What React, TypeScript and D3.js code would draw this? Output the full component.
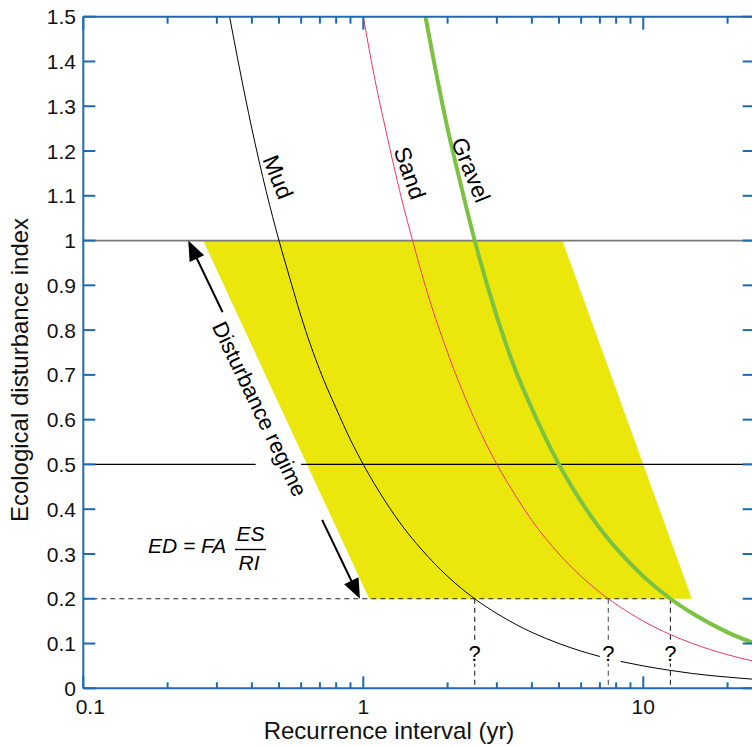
import React from "react";
import * as d3 from "d3";

// ---- data ----
const mudRI1 = [0.333, 0.36, 0.4, 0.45, 0.5, 0.55, 0.6, 0.7, 0.8, 0.9, 1.0, 1.2, 1.4, 1.6, 1.8, 2.0, 2.5, 3.0, 3.5, 4.0, 5.0, 6.0, 7.0];
const mudED1 = [1.5, 1.39, 1.25, 1.11, 1.0, 0.91, 0.83, 0.71, 0.625, 0.555, 0.5, 0.417, 0.357, 0.313, 0.278, 0.25, 0.2, 0.167, 0.143, 0.125, 0.1, 0.083, 0.071];
const mudRI2 = [8.3, 10, 12.5, 15, 20, 25];
const mudED2 = [0.06, 0.05, 0.04, 0.033, 0.025, 0.02];

const sandRI = [1.0, 1.1, 1.2, 1.4, 1.5, 1.7, 2, 2.5, 3, 3.5, 4, 5, 6, 7.5, 9, 10, 12.5, 15, 20, 25];
const sandED = [1.5, 1.36, 1.25, 1.07, 1.0, 0.88, 0.75, 0.6, 0.5, 0.43, 0.375, 0.3, 0.25, 0.2, 0.167, 0.15, 0.12, 0.1, 0.075, 0.06];

const gravelRI = [1.667, 1.8, 2, 2.2, 2.5, 3, 3.5, 4, 5, 6, 7, 8, 10, 12.5, 15, 20, 25];
const gravelED = [1.5, 1.39, 1.25, 1.14, 1.0, 0.83, 0.71, 0.625, 0.5, 0.417, 0.357, 0.313, 0.25, 0.2, 0.167, 0.125, 0.1];

const regimeRI = [0.268, 5.14, 14.9, 1.05];
const regimeED = [1, 1, 0.2, 0.2];

const refLinesED = [1, 0.5];
const thresholdED = 0.2;
const crossingRI = [2.5, 7.5, 12.5];

const arrowRI = [0.237, 0.973];
const arrowED = [1.0, 0.2];

const yTickValues = [0, 0.1, 0.2, 0.3, 0.4, 0.5, 0.6, 0.7, 0.8, 0.9, 1, 1.1, 1.2, 1.3, 1.4, 1.5];
const xTickValues = [0.1, 1, 10];
const xTickLabels = ["0.1", "1", "10"];

const curveLabels = ["Mud", "Sand", "Gravel"];
const curveLabelRI = [0.496, 1.468, 2.425];
const curveLabelED = [1.142, 1.151, 1.158];

const FONT = "'Liberation Sans', Arial, Helvetica, sans-serif";
const BLUE = "#1d6ab3";
const YELLOW = "#ebe60c";
const GREEN = "#7cc242";
const PINK = "#ea3a6c";

export default function App() {
  const W = 752, H = 746;
  const x = d3.scaleLog().domain([0.1, 25]).range([83.3, 754.7]);
  const y = d3.scaleLinear().domain([0, 1.5]).range([688.3, 16.7]);
  const [x0, x1] = x.range();
  const [yb, yt] = y.range();

  const zip = (a: number[], b: number[]) => a.map((v, i) => [v, b[i]] as [number, number]);
  const line = d3
    .line<[number, number]>()
    .x((d) => x(d[0]))
    .y((d) => y(d[1]))
    .curve(d3.curveMonotoneX);

  const minorTicks = x.ticks();
  const isMajor = (v: number) => Math.abs(Math.log10(v) - Math.round(Math.log10(v))) < 1e-6;

  const poly = zip(regimeRI, regimeED).map((d) => `${x(d[0])},${y(d[1])}`).join(" ");

  // arrow geometry
  const p0 = [x(arrowRI[0]), y(arrowED[0])];
  const p1 = [x(arrowRI[1]), y(arrowED[1])];
  const dx = p1[0] - p0[0], dy = p1[1] - p0[1];
  const L = Math.hypot(dx, dy);
  const ux = dx / L, uy = dy / L;
  const nx = -uy, ny = ux;
  const ang = (Math.atan2(dy, dx) * 180) / Math.PI;
  const headLen = 20, headW = 8;
  const head = (tip: number[], dir: number) => {
    const bx = tip[0] - dir * ux * headLen, by = tip[1] - dir * uy * headLen;
    return `${tip[0]},${tip[1]} ${bx + nx * headW},${by + ny * headW} ${bx - nx * headW},${by - ny * headW}`;
  };
  const boxStart = 0.2, boxEnd = 0.78;

  const tcx = p0[0] + ux * L * 0.46, tcy = p0[1] + uy * L * 0.46;

  return (
    <svg width={W} height={H} style={{ position: "absolute", left: 0, top: 0, background: "#fff" }} fontFamily={FONT}>
      <defs>
        <clipPath id="plot">
          <rect x={x0} y={yt} width={x1 - x0} height={yb - yt} />
        </clipPath>
      </defs>

      <polygon points={poly} fill={YELLOW} />

      <line x1={x0} x2={x1} y1={y(refLinesED[0])} y2={y(refLinesED[0])} stroke="#7a7a7a" strokeWidth={1.8} />
      <line x1={x0} x2={x1} y1={y(refLinesED[1])} y2={y(refLinesED[1])} stroke="#000" strokeWidth={1.2} />

      <line x1={x0} x2={x(crossingRI[2])} y1={y(thresholdED)} y2={y(thresholdED)} stroke="#222" strokeWidth={1.1} strokeDasharray="5,4" />
      {crossingRI.map((r, i) => (
        <line key={i} x1={x(r)} x2={x(r)} y1={y(thresholdED)} y2={yb} stroke={i === 1 ? "#555" : "#222"} strokeWidth={1.1} strokeDasharray="5,4" />
      ))}

      <g clipPath="url(#plot)" fill="none">
        <path d={line(zip(mudRI1, mudED1)) || ""} stroke="#000" strokeWidth={1} />
        <path d={line(zip(mudRI2, mudED2)) || ""} stroke="#000" strokeWidth={1} />
        <path d={line(zip(sandRI, sandED)) || ""} stroke={PINK} strokeWidth={1} />
        <path d={line(zip(gravelRI, gravelED)) || ""} stroke={GREEN} strokeWidth={4} />
      </g>

      {curveLabels.map((t, i) => (
        <text
          key={t}
          transform={`translate(${x(curveLabelRI[i])},${y(curveLabelED[i])}) rotate(${i === 1 ? 71 : 68})`}
          textAnchor="middle"
          dy="0.35em"
          fontSize={23}
          fill="#000"
        >
          {t}
        </text>
      ))}

      {crossingRI.map((r, i) => (
        <text key={i} x={x(r)} y={yb - 27} textAnchor="middle" fontSize={22} fill="#000" stroke="#fff" strokeWidth={5} paintOrder="stroke">
          ?
        </text>
      ))}

      <line x1={p0[0] + ux * headLen * 0.9} y1={p0[1] + uy * headLen * 0.9} x2={p1[0] - ux * headLen * 0.9} y2={p1[1] - uy * headLen * 0.9} stroke="#000" strokeWidth={2} />
      <polygon points={head(p0, -1)} fill="#000" />
      <polygon points={head(p1, 1)} fill="#000" />
      <g transform={`translate(${p0[0]},${p0[1]}) rotate(${ang})`}>
        <rect x={L * boxStart} y={-5} width={L * (boxEnd - boxStart)} height={41} fill="#fff" />
      </g>
      <text transform={`translate(${tcx},${tcy}) rotate(${ang})`} textAnchor="middle" y={16} fontSize={22} fill="#000">
        Disturbance regime
      </text>

      <g fontStyle="italic" fontSize={21} fill="#000">
        <text x={148} y={553}>ED = FA</text>
        <text x={250.5} y={541} textAnchor="middle">ES</text>
        <line x1={235} x2={266} y1={549.5} y2={549.5} stroke="#000" strokeWidth={1.4} />
        <text x={249} y={570} textAnchor="middle">RI</text>
      </g>

      <g stroke={BLUE} strokeWidth={2} fill="none">
        <line x1={x0} x2={x1} y1={yb} y2={yb} />
        <line x1={x0} x2={x1} y1={yt} y2={yt} />
        <line x1={x0} x2={x0} y1={yt} y2={yb} />
        <line x1={x1} x2={x1} y1={yt} y2={yb} />
        {minorTicks.map((v, i) => {
          const len = isMajor(v) ? 12 : 6;
          return (
            <g key={i}>
              <line x1={x(v)} x2={x(v)} y1={yb} y2={yb - len} />
              <line x1={x(v)} x2={x(v)} y1={yt} y2={yt + len + 1} />
            </g>
          );
        })}
        {yTickValues.map((v, i) => (
          <g key={i}>
            <line x1={x0} x2={x0 + 12} y1={y(v)} y2={y(v)} />
            <line x1={x1} x2={x1 - 12} y1={y(v)} y2={y(v)} />
          </g>
        ))}
      </g>

      <g fontSize={21} fill="#111">
        {yTickValues.map((v, i) => (
          <text key={i} x={76} y={y(v)} dy="0.36em" textAnchor="end">
            {String(+v.toFixed(1))}
          </text>
        ))}
        {xTickValues.map((v, i) => (
          <text key={i} x={x(v) + (i === 0 ? 7 : 0)} y={714} textAnchor="middle">
            {xTickLabels[i]}
          </text>
        ))}
      </g>

      <text x={389} y={739} textAnchor="middle" fontSize={24} fill="#111">
        Recurrence interval (yr)
      </text>
      <text transform="translate(28,370) rotate(-90)" textAnchor="middle" fontSize={24} fill="#111">
        Ecological disturbance index
      </text>
    </svg>
  );
}
